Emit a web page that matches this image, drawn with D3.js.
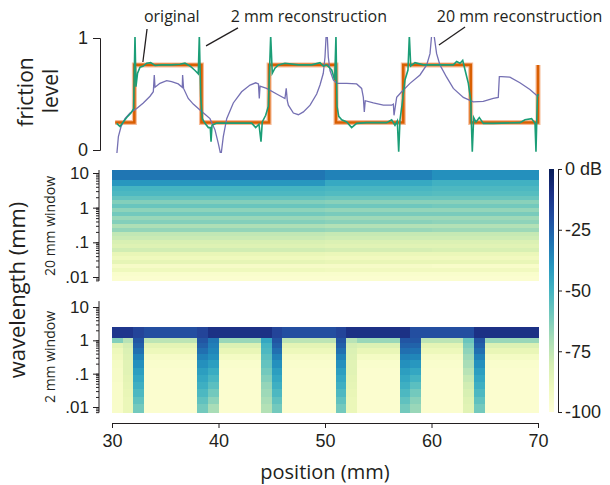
<!DOCTYPE html>
<html lang="en">
<head>
  <meta charset="UTF-8" />
  <title>Friction reconstruction and spectrograms</title>
  <script src="https://d3js.org/d3.v7.min.js"></script>
  <style>
    body { margin: 0; background: white; }
    svg { display: block; font-family: "Open Sans", sans-serif; }
    text { fill: #231f20; }
  </style>
</head>
<body>
  <svg id="chart" width="610" height="485"></svg>

  <script>
    // ---- data ----
    const positionTicks = [30, 40, 50, 60, 70];
    const frictionTicks = [0, 1];
    const wavelengthTicks = [10, 1, 0.1, 0.01];
    const wavelengthLabels = ["10", "1", ".1", ".01"];
    const dbTicks = [0, -25, -50, -75, -100];
    const dbLabels = ["0 dB", "-25", "-50", "-75", "-100"];

    // original friction profile [position mm, level]
    const original = [
      [30.3, 0.245], [32.1, 0.245], [32.1, 0.76], [38.4, 0.76], [38.4, 0.245],
      [44.75, 0.245], [44.75, 0.76], [51.03, 0.76], [51.03, 0.245], [57.35, 0.245],
      [57.35, 0.76], [63.68, 0.76], [63.68, 0.245], [70, 0.245], [70, 0.76]
    ];

    // 2 mm window reconstruction
    const recon2 = [
      [30.44, 0.238], [30.75, 0.21], [31.06, 0.25], [31.38, 0.29], [31.78, 0.33],
      [32.03, 0.37], [32.16, 1.02], [32.25, 0.565], [32.4, 0.685], [32.63, 0.74],
      [32.94, 0.75], [33.26, 0.775], [33.63, 0.78], [34.04, 0.755], [34.66, 0.76],
      [35.6, 0.76], [36.38, 0.765], [36.85, 0.775], [37.32, 0.75], [37.8, 0.71],
      [38.1, 0.68], [38.2, 1.02], [38.33, 0.476], [38.48, 0.28], [38.73, 0.238],
      [39.05, 0.2], [39.23, 0.2], [39.3, 0.075], [39.39, 0.22], [39.83, 0.24],
      [41.86, 0.24], [43.12, 0.24], [43.49, 0.2], [43.8, 0.23], [43.99, 0.075],
      [44.11, 0.25], [44.43, 0.31], [44.68, 0.39], [44.9, 1.02], [45.05, 0.685],
      [45.3, 0.73], [45.62, 0.76], [46.24, 0.775], [47.5, 0.76], [48.75, 0.76],
      [49.53, 0.78], [49.84, 0.75], [50.16, 0.76], [50.63, 0.714], [50.91, 0.625],
      [51.03, 1.02], [51.13, 0.39], [51.29, 0.3], [51.57, 0.27], [52.04, 0.25],
      [52.5, 0.2], [52.97, 0.238], [53.91, 0.244], [55.79, 0.244], [56.26, 0.27],
      [56.57, 0.22], [56.79, 0.26], [56.92, -0.015], [57.04, 0.27], [57.23, 0.4],
      [57.51, 0.625], [57.79, 0.714], [57.92, 1.02], [58.05, 0.75], [58.45, 0.78],
      [59.23, 0.76], [62.05, 0.76], [62.36, 0.79], [62.68, 0.775], [62.93, 0.8],
      [63.15, 0.714], [63.46, 0.595], [63.68, 0.446], [63.83, -0.015], [63.96, 0.29],
      [64.18, 0.25], [64.49, 0.29], [64.87, 0.238], [65.8, 0.238], [68.3, 0.244],
      [68.78, 0.27], [69.4, 0.28], [69.72, 0.238], [69.81, -0.015], [69.94, 0.476],
      [70.03, 0.5]
    ];

    // 20 mm window reconstruction
    const recon20 = [
      [30.44, -0.05], [30.6, 0.12], [30.85, 0.21], [31.22, 0.28], [31.69, 0.33],
      [32.32, 0.37], [32.94, 0.42], [33.57, 0.48], [33.88, 0.52], [33.97, 0.67],
      [34.04, 0.56], [34.5, 0.595], [35.13, 0.62], [35.6, 0.61], [36.22, 0.59],
      [36.6, 0.56], [36.63, 0.67], [36.72, 0.55], [37.16, 0.46], [37.63, 0.41],
      [38.26, 0.357], [38.73, 0.32], [39.2, 0.28], [39.67, 0.18], [39.98, 0.06],
      [40.23, -0.05], [40.45, 0.12], [40.77, 0.28], [41.39, 0.42], [42.17, 0.52],
      [42.96, 0.58], [43.49, 0.6], [43.75, 0.59], [43.83, 0.46], [43.9, 0.57],
      [44.52, 0.55], [45.46, 0.5], [46.24, 0.46], [46.36, 0.55], [46.46, 0.44],
      [46.56, 0.4], [47.03, 0.33], [47.5, 0.315], [47.97, 0.34], [48.6, 0.4],
      [49.22, 0.5], [49.53, 0.58], [49.84, 0.685], [50.0, 0.83], [50.16, 1.12],
      [50.31, 0.83], [50.47, 0.71], [50.78, 0.625], [51.1, 0.595], [52.04, 0.595],
      [52.97, 0.59], [53.44, 0.55], [53.6, 0.47], [53.69, 0.34], [53.78, 0.44],
      [54.54, 0.42], [55.48, 0.4], [56.26, 0.4], [56.42, 0.41], [56.48, 0.31],
      [56.73, 0.47], [57.2, 0.52], [57.98, 0.595], [58.92, 0.67], [59.55, 0.76],
      [59.86, 0.86], [60.1, 1.12], [60.48, 0.86], [60.79, 0.76], [61.42, 0.65],
      [62.05, 0.55], [62.99, 0.47], [63.92, 0.43], [64.86, 0.435], [65.8, 0.46],
      [66.27, 0.47], [66.37, 0.655], [66.58, 0.655], [67.36, 0.65], [68.3, 0.6],
      [69.24, 0.54], [70.02, 0.476]
    ];

    // 20 mm window spectrogram: row edges (wavelength mm), 3 time columns
    const rowEdges20 = [12.2, 6.3, 4.2, 3.0, 2.17, 1.67, 1.28, 0.98, 0.75, 0.57, 0.44,
      0.34, 0.26, 0.20, 0.153, 0.117, 0.090, 0.069, 0.053, 0.041, 0.031, 0.024,
      0.018, 0.014, 0.0107, 0.0077];
    const colEdges20 = [30, 50, 60, 70];
    const db20a = [-31, -40, -50, -52, -57, -63, -58, -65, -60, -67, -63, -71, -66,
      -75, -77, -81, -83, -79, -87, -90, -86, -94, -90, -96, -97];
    const db20b = [-34, -46, -51, -53, -58, -64, -59, -66, -61, -68, -64, -72, -67,
      -76, -78, -82, -84, -80, -88, -91, -87, -94, -91, -96, -97];
    const db20c = [-38, -49, -52, -54, -58, -64, -60, -66, -61, -68, -65, -72, -68,
      -76, -78, -82, -84, -81, -88, -91, -87, -95, -91, -96, -97];
    const db20 = [db20a, db20b, db20c];

    // 2 mm window spectrogram: 1 mm columns from 30 to 70
    const rowEdges2 = [2.5, 1.15, 0.85, 0.6, 0.4, 0.25, 0.15, 0.09, 0.055, 0.035,
      0.02, 0.012, 0.0068];
    const colStarts2 = d3.range(30, 70);
    const band2 = [-12, -12, -17, -20, -20, -20, -20, -20, -17, -10, -10, -10, -10,
      -10, -10, -17, -20, -20, -20, -20, -20, -17, -10, -10, -10, -10, -10, -10,
      -20, -20, -20, -20, -20, -20, -10, -10, -10, -10, -10, -10];
    const profile2 = {
      c30:   [-63, -85, -89, -91, -93, -94, -94, -95, -95, -95, -95],
      yg:    [-73, -80, -82, -83, -84, -84, -85, -86, -87, -88, -88],
      dark:  [-22, -25, -29, -34, -38, -42, -45, -48, -52, -56, -60],
      dark2: [-22, -26, -30, -35, -40, -45, -50, -55, -60, -64, -67],
      teal:  [-31, -33, -35, -38, -42, -47, -51, -55, -60, -65, -70],
      teal2: [-45, -50, -52, -55, -57, -60, -63, -66, -68, -70, -72],
      tealg: [-58, -62, -65, -68, -70, -73, -76, -79, -81, -83, -84],
      paleA: [-74, -85, -89, -94, -96, -97, -97, -97, -97, -97, -97],
      paleB: [-67, -82, -87, -93, -96, -97, -97, -97, -97, -97, -97]
    };
    const colProfile2 = ["c30", "yg", "dark", "paleA", "paleA", "paleA", "paleA",
      "paleA", "dark", "teal", "paleB", "paleB", "paleB", "paleB", "teal2", "dark",
      "paleA", "paleA", "paleA", "paleA", "paleA", "dark", "yg", "paleB", "paleB",
      "paleB", "paleB", "dark", "dark2", "paleA", "paleA", "paleA", "paleA",
      "tealg", "dark", "paleB", "paleB", "paleB", "paleB", "paleB"];

    // ---- scales ----
    const svg = d3.select("#chart");
    const x = d3.scaleLinear().domain([30, 70]).range([112, 538]);
    const yF = d3.scaleLinear().domain([0, 1]).range([150, 38]);
    const yW20 = d3.scaleLog().domain([0.01, 10]).range([277, 173]);
    const yW2 = d3.scaleLog().domain([0.01, 10]).range([407, 307]);
    const yDb = d3.scaleLinear().domain([-100, 0]).range([412, 169]);
    const color = d3.scaleSequential(d3.interpolateYlGnBu).domain([-100, 0]);
    const ink = "#231f20";

    // ---- top panel: friction level ----
    svg.append("clipPath").attr("id", "topclip")
      .append("rect").attr("x", 100).attr("y", 37).attr("width", 450).attr("height", 116);

    const line = d3.line().x(d => x(d[0])).y(d => yF(d[1]));
    const topPanel = svg.append("g").attr("clip-path", "url(#topclip)");

    topPanel.append("path").datum(original).attr("d", line)
      .attr("fill", "none").attr("stroke", "#f6bb98").attr("stroke-width", 5);
    topPanel.append("path").datum(original).attr("d", line)
      .attr("fill", "none").attr("stroke", "#d95f02").attr("stroke-width", 2.6);
    topPanel.append("path").datum(recon20).attr("d", line)
      .attr("fill", "none").attr("stroke", "#7570b3").attr("stroke-width", 1.3);
    topPanel.append("path").datum(recon2).attr("d", line)
      .attr("fill", "none").attr("stroke", "#1b9e77").attr("stroke-width", 1.6);

    const yAxisTop = svg.append("g").attr("transform", "translate(100,0)")
      .call(d3.axisLeft(yF).tickValues(frictionTicks).tickFormat(d3.format("d")).tickSize(7).tickPadding(5));
    yAxisTop.selectAll("text").attr("font-size", 18).attr("fill", ink);
    yAxisTop.selectAll("path,line").attr("stroke", ink);

    svg.append("text").attr("transform", "translate(33,92) rotate(-90)")
      .attr("text-anchor", "middle").attr("font-size", 21).text("friction");
    svg.append("text").attr("transform", "translate(58,91) rotate(-90)")
      .attr("text-anchor", "middle").attr("font-size", 21).text("level");

    // annotations
    const notes = [
      { label: "original", tx: 33.0, from: [33.29, 1.08], to: [32.9, 0.786] },
      { label: "2 mm reconstruction", tx: 41.15, from: [41.83, 1.09], to: [38.83, 0.93] },
      { label: "20 mm reconstruction", tx: 60.5, from: [63.15, 1.098], to: [60.7, 0.9375] }
    ];
    notes.forEach(n => {
      svg.append("text").attr("x", x(n.tx)).attr("y", 22)
        .attr("font-size", 16).text(n.label);
      svg.append("line")
        .attr("x1", x(n.from[0])).attr("y1", yF(n.from[1]))
        .attr("x2", x(n.to[0])).attr("y2", yF(n.to[1]))
        .attr("stroke", ink).attr("stroke-width", 1.3);
    });

    // ---- spectrogram, 20 mm window ----
    const cells20 = [];
    db20.forEach((col, ci) => {
      col.forEach((v, ri) => {
        cells20.push({ x0: colEdges20[ci], x1: colEdges20[ci + 1],
          w0: rowEdges20[ri], w1: rowEdges20[ri + 1], v: v });
      });
    });
    svg.append("g").attr("shape-rendering", "crispEdges")
      .selectAll("rect").data(cells20).join("rect")
      .attr("x", d => x(d.x0)).attr("width", d => x(d.x1) - x(d.x0) + 0.5)
      .attr("y", d => yW20(d.w0)).attr("height", d => yW20(d.w1) - yW20(d.w0) + 0.5)
      .attr("fill", d => color(d.v));

    // ---- spectrogram, 2 mm window ----
    const cells2 = [];
    colStarts2.forEach((p, ci) => {
      cells2.push({ x0: p, x1: p + 1, w0: rowEdges2[0], w1: rowEdges2[1], v: band2[ci] });
      profile2[colProfile2[ci]].forEach((v, ri) => {
        cells2.push({ x0: p, x1: p + 1, w0: rowEdges2[ri + 1], w1: rowEdges2[ri + 2], v: v });
      });
    });
    svg.append("g").attr("shape-rendering", "crispEdges")
      .selectAll("rect").data(cells2).join("rect")
      .attr("x", d => x(d.x0)).attr("width", d => x(d.x1) - x(d.x0) + 0.5)
      .attr("y", d => yW2(d.w0)).attr("height", d => yW2(d.w1) - yW2(d.w0) + 0.5)
      .attr("fill", d => color(d.v));

    // log axes for the spectrograms
    function logAxis(scale, lo, hi) {
      const g = svg.append("g").attr("transform", "translate(99,0)");
      const minor = scale.copy().domain([lo, hi]).range([scale(lo), scale(hi)]);
      g.append("line").attr("x1", 0).attr("x2", 0)
        .attr("y1", scale(lo)).attr("y2", scale(hi)).attr("stroke", ink);
      g.append("g").call(d3.axisLeft(minor).tickValues(minor.ticks()).tickSize(3).tickFormat(""))
        .call(a => a.select(".domain").remove());
      g.append("g").call(d3.axisLeft(scale).tickValues(wavelengthTicks).tickSize(6).tickPadding(4)
          .tickFormat((d, i) => wavelengthLabels[i]))
        .call(a => a.select(".domain").remove());
      g.selectAll("line").attr("stroke", ink);
      g.selectAll("text").attr("font-size", 17).attr("fill", ink);
    }
    logAxis(yW20, 0.0077, 12.2);
    logAxis(yW2, 0.0068, 15);

    svg.append("text").attr("transform", "translate(25,290) rotate(-90)")
      .attr("text-anchor", "middle").attr("font-size", 22).text("wavelength (mm)");
    svg.append("text").attr("transform", "translate(55,226) rotate(-90)")
      .attr("text-anchor", "middle").attr("font-size", 14).text("20 mm window");
    svg.append("text").attr("transform", "translate(55,357) rotate(-90)")
      .attr("text-anchor", "middle").attr("font-size", 14).text("2 mm window");

    // ---- x axis ----
    const xAxis = svg.append("g").attr("transform", "translate(0,423)")
      .call(d3.axisBottom(x).tickValues(positionTicks).tickSize(5).tickPadding(6));
    xAxis.selectAll("text").attr("font-size", 18).attr("fill", ink);
    xAxis.selectAll("path,line").attr("stroke", ink);
    svg.append("text").attr("x", x(50)).attr("y", 479)
      .attr("text-anchor", "middle").attr("font-size", 20).text("position (mm)");

    // ---- colour bar ----
    const grad = svg.append("defs").append("linearGradient")
      .attr("id", "cbar").attr("x1", 0).attr("y1", 1).attr("x2", 0).attr("y2", 0);
    d3.range(0, 1.0001, 0.1).forEach(t => {
      grad.append("stop").attr("offset", t).attr("stop-color", d3.interpolateYlGnBu(t));
    });
    svg.append("rect").attr("x", 549).attr("y", yDb(0)).attr("width", 5)
      .attr("height", yDb(-100) - yDb(0)).attr("fill", "url(#cbar)");
    const cAxis = svg.append("g").attr("transform", "translate(558,0)")
      .call(d3.axisRight(yDb).tickValues(dbTicks).tickSize(4).tickPadding(3)
        .tickFormat((d, i) => dbLabels[i]));
    cAxis.selectAll("text").attr("font-size", 18).attr("fill", ink);
    cAxis.selectAll("path,line").attr("stroke", ink);
  </script>
</body>
</html>
